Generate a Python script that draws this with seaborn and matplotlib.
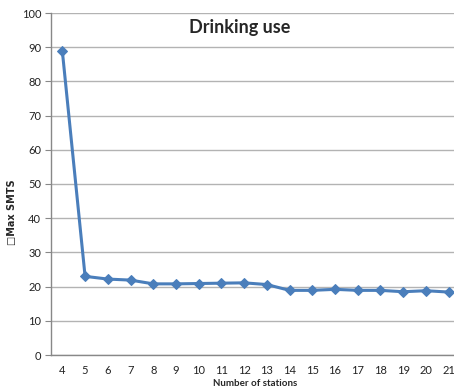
import seaborn as sns
import matplotlib.pyplot as plt
import pandas as pd

sns.set_style("white")
plt.rcParams['font.family'] = ['Lato', 'DejaVu Sans']

# values
stations = [4, 5, 6, 7, 8, 9, 10, 11, 12, 13, 14, 15, 16, 17, 18, 19, 20, 21]
max_smts = [88.8, 23.0, 22.2, 21.9, 20.8, 20.8, 20.9, 21.0, 21.1, 20.6,
            18.9, 18.9, 19.2, 18.9, 18.9, 18.5, 18.8, 18.4]

df = pd.DataFrame({"stations": stations, "max_smts": max_smts})

fig = plt.figure(figsize=(4.54, 3.88), dpi=100)
ax = fig.add_axes([51 / 454, 33 / 388, 409 / 454, 342 / 388])

sns.lineplot(data=df, x="stations", y="max_smts", ax=ax, color="#4a7ebb",
             linewidth=2.2, marker="D", markersize=5, markeredgecolor="#4a7ebb")

ax.set_xlim(3.5, 21.5)
ax.set_ylim(0, 100)
ax.set_xticks(stations)
ax.set_xticks([s - 0.5 for s in stations] + [21.5], minor=True)
ax.set_yticks(range(0, 101, 10))
ax.tick_params(axis="x", which="major", length=0, labelsize=8, colors="#222222", pad=7)
ax.tick_params(axis="x", which="minor", length=4, color="#888888", direction="out")
ax.tick_params(axis="y", length=4, color="#888888", direction="out", labelsize=8,
               colors="#222222", left=True, pad=3)
ax.grid(axis="y", color="#b3b3b3", linewidth=1)
ax.set_axisbelow(True)

for side in ["top", "right"]:
    ax.spines[side].set_visible(False)
for side in ["left", "bottom"]:
    ax.spines[side].set_color("#888888")
    ax.spines[side].set_linewidth(1)

ax.set_xlabel("Number of stations", fontsize=7, fontweight="bold", labelpad=2)
ax.set_ylabel("")
fig.text(12 / 454, 1 - 212 / 388, "\u25a1Max SMTS", fontsize=7, fontweight="bold",
         rotation=90, ha="center", va="center", family=['DejaVu Sans'])
fig.text(240 / 454, 1 - 27 / 388, "Drinking use", fontsize=13, fontweight="bold",
         ha="center", va="center")

fig.savefig("out.png", dpi=100)
